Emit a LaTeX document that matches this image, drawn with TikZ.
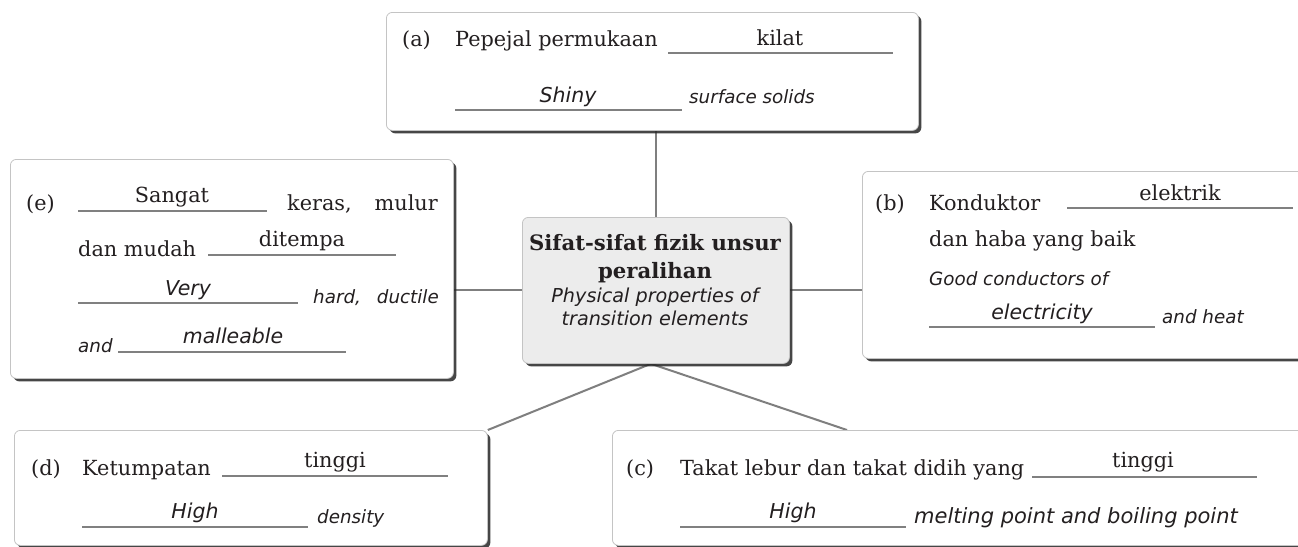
\documentclass[tikz,border=0pt]{standalone}
\usepackage{fontspec}
\setmainfont{DejaVu Serif}
\setsansfont{DejaVu Sans}
\usetikzlibrary{shadows}
\pgfdeclarelayer{bgzero}
\pgfdeclarelayer{background}
\pgfsetlayers{bgzero,background,main}
\definecolor{txt}{HTML}{231F20}
\definecolor{boxline}{HTML}{C4C4C4}
\definecolor{conn}{HTML}{7F7F7F}
\definecolor{blankline}{HTML}{808080}
\definecolor{midfill}{HTML}{ECECEC}
\tikzset{
  box/.style={draw=boxline, line width=0.8pt, rounded corners=6pt, fill=white,
    drop shadow={shadow xshift=3pt, shadow yshift=-3pt, fill=black!85, opacity=0.85},
    inner sep=0pt, anchor=north west},
  sr/.style={font=\fontsize{20.8}{24}\selectfont, text=txt, inner sep=0pt, anchor=base west},
  srans/.style={font=\fontsize{20.8}{24}\selectfont, text=txt, inner sep=0pt, anchor=base},
  ss/.style={font=\fontsize{18.3}{22}\selectfont\sffamily\itshape, text=txt, inner sep=0pt, anchor=base west},
  ssans/.style={font=\fontsize{20.5}{24}\selectfont\sffamily\itshape, text=txt, inner sep=0pt, anchor=base},
  blank/.style={draw=blankline, line width=1.1pt},
  link/.style={draw=conn, line width=2pt},
}
\begin{document}
\begin{tikzpicture}[x=1pt,y=-1pt]
\useasboundingbox (0,0) rectangle (1298,546);
\begin{pgfonlayer}{bgzero}
\fill[white] (0,0) rectangle (1298,546);
\end{pgfonlayer}
\clip (0,0) rectangle (1298,546);

% boxes
\node[box, minimum width=532pt, minimum height=118pt] (a) at (386,12) {};
\node[box, minimum width=443pt, minimum height=219pt] (e) at (10,159) {};
\node[box, fill=midfill, minimum width=267pt, minimum height=146pt] (m) at (522,217) {};
\node[box, minimum width=460pt, minimum height=187pt] (b) at (862,171) {};
\node[box, minimum width=473pt, minimum height=115pt] (d) at (14,430) {};
\node[box, minimum width=710pt, minimum height=115pt] (c) at (612,430) {};

% connectors
\begin{pgfonlayer}{background}
\draw[link] (m.north) -- (m.north |- a.south);
\draw[link] (m.west) -- (m.west -| e.east);
\draw[link] (m.east) -- (m.east -| b.west);
\coordinate (ms) at ([xshift=-5pt]m.south);
\coordinate (cn) at ([xshift=235pt]c.north west);
\draw[link] (ms) -- (d.north east);
\draw[link] (ms) -- (cn);
\end{pgfonlayer}

% center text
\node[srans, font=\fontsize{21.2}{24}\selectfont\bfseries] (m1) at (655,250) {Sifat-sifat fizik unsur};
\node[srans, font=\fontsize{21.2}{24}\selectfont\bfseries] (m2) at (655,278) {peralihan};
\node[ssans, font=\fontsize{19.2}{22}\selectfont\sffamily\itshape] (m3) at (655,302) {Physical properties of};
\node[ssans, font=\fontsize{19.2}{22}\selectfont\sffamily\itshape] (m4) at (655,325) {transition elements};

% (a)
\node[sr] (a1) at (402,46) {(a)};
\node[sr] (a2) at (455,46) {Pepejal permukaan};
\draw[blank] (668,53) -- (893,53);
\node[srans] (a3) at (780,45) {kilat};
\draw[blank] (455,110) -- (682,110);
\node[ssans] (a4) at (568,102) {Shiny};
\node[ss] (a5) at (689,103) {surface solids};

% (e)
\node[sr] (e1) at (26,210) {(e)};
\draw[blank] (78,211) -- (267,211);
\node[srans] (e2) at (172,202) {Sangat};
\node[sr] (e3) at (287,210) {keras,};
\node[sr, anchor=base east] (e4) at (438,210) {mulur};
\node[sr] (e5) at (78,256) {dan mudah};
\draw[blank] (208,255) -- (396,255);
\node[srans] (e6) at (302,246) {ditempa};
\draw[blank] (78,303) -- (298,303);
\node[ssans] (e7) at (188,295) {Very};
\node[ss] (e8) at (313,303) {hard,};
\node[ss, anchor=base east] (e9) at (439,303) {ductile};
\node[ss] (e10) at (78,352) {and};
\draw[blank] (118,352) -- (346,352);
\node[ssans] (e11) at (233,343) {malleable};

% (b)
\node[sr] (b1) at (875,210) {(b)};
\node[sr] (b2) at (929,210) {Konduktor};
\draw[blank] (1067,208) -- (1293,208);
\node[srans] (b3) at (1180,200) {elektrik};
\node[sr] (b4) at (929,246) {dan haba yang baik};
\node[ss] (b5) at (929,285) {Good conductors of};
\draw[blank] (929,327) -- (1155,327);
\node[ssans] (b6) at (1042,319) {electricity};
\node[ss] (b7) at (1162,323) {and heat};

% (d)
\node[sr] (d1) at (31,475) {(d)};
\node[sr] (d2) at (82,475) {Ketumpatan};
\draw[blank] (222,476) -- (448,476);
\node[srans] (d3) at (335,467) {tinggi};
\draw[blank] (82,527) -- (308,527);
\node[ssans] (d4) at (195,518) {High};
\node[ss] (d5) at (317,523) {density};

% (c)
\node[sr] (c1) at (626,475) {(c)};
\node[sr] (c2) at (680,475) {Takat lebur dan takat didih yang};
\draw[blank] (1032,477) -- (1257,477);
\node[srans] (c3) at (1143,467) {tinggi};
\draw[blank] (680,527) -- (906,527);
\node[ssans] (c4) at (793,518) {High};
\node[ss, font=\fontsize{21}{24}\selectfont\sffamily\itshape] (c5) at (914,523) {melting point and boiling point};
\end{tikzpicture}
\end{document}
